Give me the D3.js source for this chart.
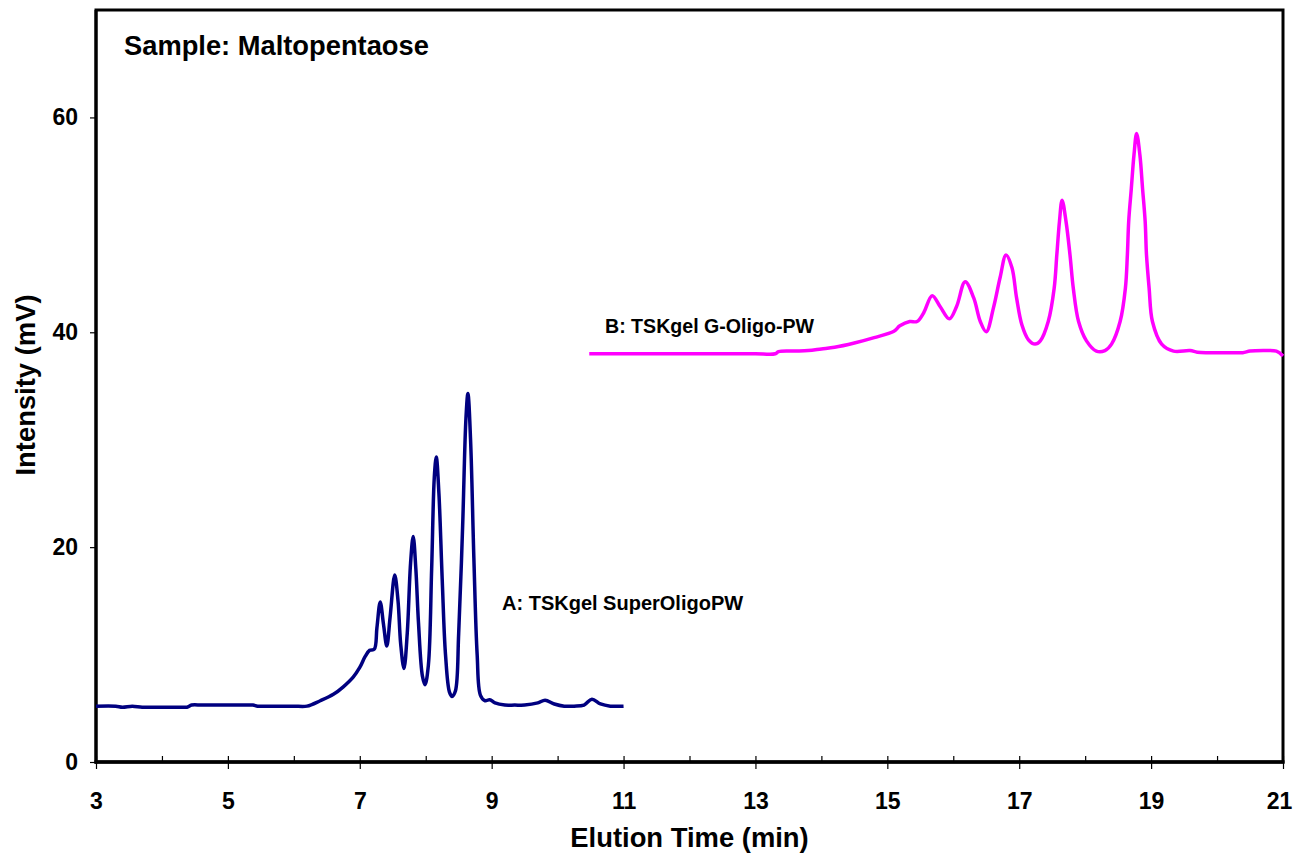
<!DOCTYPE html>
<html>
<head>
<meta charset="utf-8">
<script src="https://cdn.jsdelivr.net/npm/d3@7"></script>
<style>
  html, body { margin: 0; padding: 0; background: #fff; }
  svg text { font-family: "Liberation Sans", Arial, sans-serif; font-weight: bold; fill: #000; }
</style>
</head>
<body>
<svg id="chart" width="1293" height="853"></svg>
<script>
// ---- Data ----
const timeA = [3.00, 3.30, 3.40, 3.55, 3.70, 3.90, 4.10, 4.30, 4.38, 4.45, 4.60, 4.80, 5.00, 5.20, 5.38, 5.45, 5.60, 5.80, 6.00, 6.20, 6.40, 6.60, 6.75, 6.90, 7.00, 7.08, 7.15, 7.22, 7.26, 7.31, 7.36, 7.41, 7.46, 7.53, 7.58, 7.62, 7.67, 7.72, 7.77, 7.81, 7.85, 7.89, 7.95, 7.99, 8.04, 8.09, 8.13, 8.16, 8.20, 8.25, 8.30, 8.36, 8.40, 8.45, 8.50, 8.56, 8.61, 8.64, 8.68, 8.73, 8.78, 8.83, 8.90, 8.97, 9.05, 9.20, 9.35, 9.50, 9.70, 9.81, 9.95, 10.10, 10.25, 10.40, 10.52, 10.65, 10.80, 11.00];
const intensityA = [5.2, 5.2, 5.1, 5.2, 5.1, 5.1, 5.1, 5.1, 5.1, 5.3, 5.3, 5.3, 5.3, 5.3, 5.3, 5.2, 5.2, 5.2, 5.2, 5.2, 5.7, 6.3, 7.0, 7.9, 8.8, 9.8, 10.4, 10.5, 12.5, 14.9, 12.8, 10.8, 13.5, 17.4, 15.0, 11.0, 8.7, 12.0, 18.5, 21.0, 18.0, 13.0, 8.0, 7.2, 9.0, 18.0, 26.5, 28.4, 25.0, 17.0, 10.0, 6.5, 6.1, 6.6, 12.0, 22.0, 32.0, 34.3, 30.0, 19.0, 10.0, 6.2, 5.7, 5.8, 5.5, 5.3, 5.3, 5.3, 5.5, 5.75, 5.4, 5.2, 5.2, 5.3, 5.85, 5.4, 5.2, 5.2];

const timeB = [10.48, 11.00, 11.50, 12.00, 12.50, 13.00, 13.30, 13.35, 13.60, 13.80, 14.00, 14.20, 14.50, 14.80, 15.10, 15.19, 15.34, 15.45, 15.55, 15.68, 15.80, 15.94, 16.05, 16.18, 16.31, 16.41, 16.50, 16.61, 16.71, 16.80, 16.89, 16.96, 17.04, 17.14, 17.24, 17.32, 17.44, 17.53, 17.57, 17.61, 17.65, 17.71, 17.77, 17.82, 17.90, 18.02, 18.17, 18.30, 18.40, 18.53, 18.61, 18.64, 18.66, 18.70, 18.74, 18.78, 18.83, 18.87, 18.91, 18.93, 18.97, 19.02, 19.16, 19.34, 19.59, 19.70, 19.85, 19.99, 20.20, 20.39, 20.50, 20.70, 20.90, 21.00];
const intensityB = [38.0, 38.0, 38.0, 38.0, 38.0, 38.0, 38.0, 38.2, 38.25, 38.3, 38.45, 38.6, 39.0, 39.5, 40.1, 40.6, 41.0, 41.0, 41.8, 43.4, 42.4, 41.25, 42.4, 44.7, 43.2, 41.0, 40.05, 42.3, 45.1, 47.2, 46.0, 43.2, 40.7, 39.3, 38.9, 39.2, 41.0, 44.1, 47.2, 50.3, 52.3, 50.3, 47.2, 44.1, 41.0, 39.2, 38.25, 38.3, 38.9, 41.0, 44.1, 47.2, 50.3, 53.4, 56.5, 58.5, 56.5, 53.4, 50.3, 47.2, 44.1, 41.0, 38.9, 38.25, 38.3, 38.15, 38.1, 38.1, 38.1, 38.1, 38.25, 38.3, 38.25, 37.8];

const xTickMajor = [3, 5, 7, 9, 11, 13, 15, 17, 19, 21];
const xTickMinor = [4, 6, 8, 10, 12, 14, 16, 18, 20];
const yTicks = [0, 20, 40, 60];

const titleText = "Sample: Maltopentaose";
const labelA = "A: TSKgel SuperOligoPW";
const labelB = "B: TSKgel G-Oligo-PW";
const xTitle = "Elution Time (min)";
const yTitle = "Intensity (mV)";

// ---- Layout ----
const plot = { left: 96, right: 1283, top: 10, bottom: 762 };
const svg = d3.select("#chart");

const x = d3.scaleLinear().domain([3, 21]).range([plot.left, plot.right]);
const y = d3.scaleLinear().domain([0, 70]).range([plot.bottom, plot.top]);

// Plot frame
svg.append("rect")
  .attr("x", plot.left).attr("y", plot.top)
  .attr("width", plot.right - plot.left).attr("height", plot.bottom - plot.top)
  .attr("fill", "none").attr("stroke", "#000").attr("stroke-width", 3);

// X axis: major ticks crossing, minor ticks inside
const xMajor = svg.append("g").attr("transform", `translate(0,${plot.bottom})`)
  .call(d3.axisBottom(x).tickValues(xTickMajor).tickSize(7).tickSizeOuter(0).tickPadding(24).tickFormat(d3.format("d")));
xMajor.select(".domain").remove();
xMajor.selectAll(".tick line").attr("y1", -6).attr("stroke-width", 1.2);
xMajor.selectAll(".tick text").attr("font-size", 23).attr("font-family", "Liberation Sans, Arial, sans-serif").attr("font-weight", "bold")
  .attr("dx", d => d === 21 ? -4 : 0);

const xMinor = svg.append("g").attr("transform", `translate(0,${plot.bottom})`)
  .call(d3.axisTop(x).tickValues(xTickMinor).tickSize(6).tickSizeOuter(0).tickFormat(""));
xMinor.select(".domain").remove();
xMinor.selectAll(".tick line").attr("stroke-width", 1.2);

// Y axis: outward ticks
const yAxis = svg.append("g").attr("transform", `translate(${plot.left},0)`)
  .call(d3.axisLeft(y).tickValues(yTicks).tickSize(6).tickSizeOuter(0).tickPadding(12).tickFormat(d3.format("d")));
yAxis.select(".domain").remove();
yAxis.selectAll(".tick line").attr("stroke-width", 1.2);
yAxis.selectAll(".tick text").attr("font-size", 23).attr("font-family", "Liberation Sans, Arial, sans-serif").attr("font-weight", "bold");

// Redraw left and bottom axis lines on top
svg.append("line").attr("x1", plot.left).attr("x2", plot.left).attr("y1", plot.top).attr("y2", plot.bottom + 1.5)
  .attr("stroke", "#000").attr("stroke-width", 3);
svg.append("line").attr("x1", plot.left - 1.5).attr("x2", plot.right + 1.5).attr("y1", plot.bottom).attr("y2", plot.bottom)
  .attr("stroke", "#000").attr("stroke-width", 3.5);

// Series lines
const dataA = timeA.map((t, i) => ({ t, v: intensityA[i] }));
const dataB = timeB.map((t, i) => ({ t, v: intensityB[i] }));
const line = d3.line().x(d => x(d.t)).y(d => y(d.v)).curve(d3.curveCatmullRom.alpha(0.5));

svg.append("path").datum(dataA).attr("d", line)
  .attr("fill", "none").attr("stroke", "#000080").attr("stroke-width", 3.5).attr("stroke-linejoin", "round");
svg.append("path").datum(dataB).attr("d", line)
  .attr("fill", "none").attr("stroke", "#FF00FF").attr("stroke-width", 3.5).attr("stroke-linejoin", "round");

// Texts
svg.append("text").attr("x", 124).attr("y", 55).attr("font-size", 27.3).text(titleText);
svg.append("text").attr("x", 502).attr("y", 610).attr("font-size", 20).text(labelA);
svg.append("text").attr("x", 605).attr("y", 333).attr("font-size", 19.6).text(labelB);
svg.append("text").attr("x", (plot.left + plot.right) / 2).attr("y", 847)
  .attr("text-anchor", "middle").attr("font-size", 27.4).text(xTitle);
svg.append("text").attr("transform", `translate(35,385) rotate(-90)`)
  .attr("text-anchor", "middle").attr("font-size", 27.4).text(yTitle);
</script>
</body>
</html>
